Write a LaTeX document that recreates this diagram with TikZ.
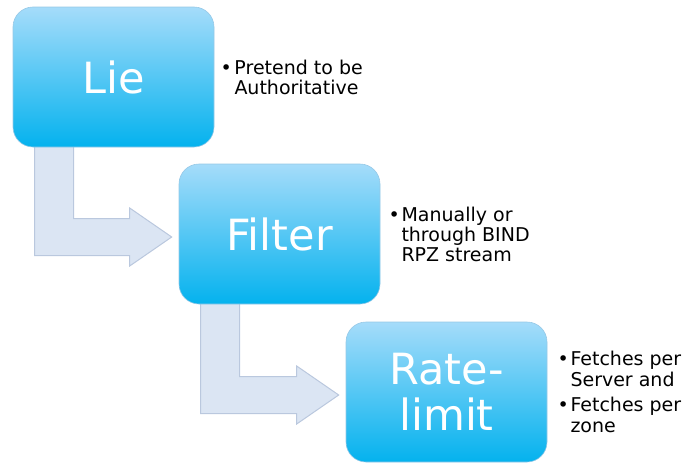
\documentclass[tikz,border=0pt]{standalone}
\usepackage{fontspec}
\setmainfont{DejaVu Sans}
\usepackage{tikz}
\usetikzlibrary{positioning,calc,backgrounds}

\definecolor{steptop}{RGB}{165,220,250}
\definecolor{stepbottom}{RGB}{4,178,238}
\definecolor{stepedge}{RGB}{150,200,230}
\definecolor{bendfill}{RGB}{219,229,243}
\definecolor{bendedge}{RGB}{186,200,222}

\begin{document}
\begin{tikzpicture}[x=1pt,y=-1pt]
  \tikzset{StepStyle/.style = {
    shape          = rectangle,
    rounded corners = 20pt,
    top color      = steptop,
    bottom color   = stepbottom,
    draw           = stepedge,
    line width     = 0.6pt,
    text           = white,
    font           = \fontsize{43}{46}\selectfont,
    align          = center,
    minimum width  = 201pt,
    minimum height = 140pt,
    inner sep      = 0pt
    }
  }
  \tikzset{NoteStyle/.style = {
    anchor         = west,
    inner sep      = 0pt,
    yshift         = -3pt,
    text           = black,
    font           = \fontsize{19}{19}\selectfont
    }
  }
  \tikzset{BendStyle/.style = {
    fill           = bendfill,
    draw           = bendedge,
    line width     = 1pt,
    line join      = miter
    }
  }

  \useasboundingbox (0,0) rectangle (688,463);

  \node[StepStyle](lie) at (113.5,77) {Lie};
  \node[StepStyle](filter) at (279.5,234) {Filter};
  \node[StepStyle](rate) at (446.5,392) {Rate-\\limit};

  \node[NoteStyle, right=6pt of lie](lienote)
    {\begin{tabular}{@{}p{14pt}@{}l@{}}
      \textbullet & Pretend to be\\
                  & Authoritative
    \end{tabular}};
  \node[NoteStyle, right=8pt of filter](filternote)
    {\begin{tabular}{@{}p{13pt}@{}l@{}}
      \textbullet & Manually or\\
                  & through BIND\\
                  & RPZ stream
    \end{tabular}};
  \node[NoteStyle, right=10pt of rate, font=\fontsize{19}{21}\selectfont](ratenote)
    {\begin{tabular}{@{}p{13pt}@{}l@{}}
      \textbullet & Fetches per\\
                  & Server and\\[4pt]
      \textbullet & Fetches per\\
                  & zone
    \end{tabular}};

  % bent arrows run behind the boxes
  \begin{scope}[on background layer]
  \path[BendStyle] let \p1=(lie.south west), \p2=(filter.west) in
    (\x1+22pt,\y1+7pt) -- (\x1+61pt,\y1+7pt) -- (\x1+61pt,\y2+15.5pt)
    -- (\x2-49pt,\y2+15.5pt) -- (\x2-49pt,\y2+26pt) -- (\x2-7pt,\y2-3pt)
    -- (\x2-49pt,\y2-32pt) -- (\x2-49pt,\y2-21.5pt) -- (\x1+22pt,\y2-21.5pt) -- cycle;
  \path[BendStyle] let \p1=(filter.south west), \p2=(rate.west) in
    (\x1+22pt,\y1+7pt) -- (\x1+61pt,\y1+7pt) -- (\x1+61pt,\y2+15.5pt)
    -- (\x2-49pt,\y2+15.5pt) -- (\x2-49pt,\y2+26pt) -- (\x2-7pt,\y2-3pt)
    -- (\x2-49pt,\y2-32pt) -- (\x2-49pt,\y2-21.5pt) -- (\x1+22pt,\y2-21.5pt) -- cycle;
  \end{scope}
\end{tikzpicture}
\end{document}
